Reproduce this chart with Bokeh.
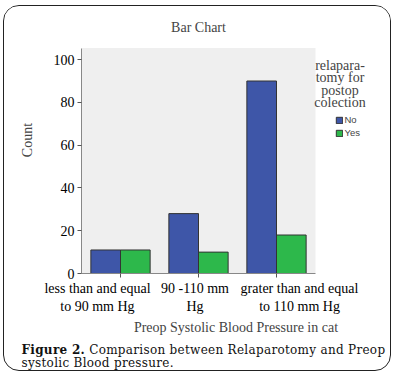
from bokeh.plotting import figure
from bokeh.layouts import column
from bokeh.models import (Range1d, ColumnDataSource, Label, Legend, LegendItem,
                          FixedTicker, LinearAxis, Div)
from bokeh.embed import file_html
from bokeh.resources import INLINE

categories = ["less than and equal\nto 90 mm Hg", "90 -110 mm\nHg", "grater than and equal\nto 110 mm Hg"]
no_counts = [11, 28, 90]
yes_counts = [11, 10, 18]
series_names = ["No", "Yes"]
y_ticks = [0, 20, 40, 60, 80, 100]
y_top = 105.4  # top of the grey plot area, in counts
# where SPSS placed the category labels (spread apart to avoid overlap), in category units
label_pos = [0.205, 1.455, 2.795]

# layout (canvas pixels)
W, H = 386, 331
FL = 77            # frame left
FB = 266.5         # frame bottom (frame top is canvas top)
PLOT_W = 234       # width of the grey plot area
PLOT_H = 225       # height of the grey plot area
n = len(categories)
x_end = n * (W - FL) / PLOT_W
y_end = y_top * FB / PLOT_H

centers = [i + 0.5 for i in range(n)]
off = 0.19
src = ColumnDataSource(dict(x_no=[c - off for c in centers], x_yes=[c + off for c in centers],
                            no=no_counts, yes=yes_counts))

p = figure(width=W, height=H, x_range=Range1d(0, x_end), y_range=Range1d(0, y_end),
           output_backend="svg", toolbar_location=None, x_axis_location=None,
           min_border_left=FL, min_border_top=0, min_border_right=0,
           min_border_bottom=int(round(H - FB)))
p.background_fill_color = "white"
p.border_fill_color = "white"
p.outline_line_color = None
p.grid.visible = False

serif = "Liberation Serif"

# grey plot area
p.quad(left=[0], right=[n], bottom=[0], top=[y_top], fill_color="#efefef", line_color=None)

r_no = p.vbar(x="x_no", top="no", width=0.38, source=src,
              fill_color="#3e56a8", line_color="#333333", line_width=1)
r_yes = p.vbar(x="x_yes", top="yes", width=0.38, source=src,
               fill_color="#2db84b", line_color="#333333", line_width=1)

# y axis
p.yaxis.ticker = FixedTicker(ticks=y_ticks)
p.yaxis.bounds = (0, y_top)
p.yaxis.minor_tick_line_color = None
p.yaxis.major_tick_out = 4
p.yaxis.major_tick_in = 0
p.yaxis.major_label_standoff = 3
p.yaxis.axis_line_color = "#888888"
p.yaxis.major_tick_line_color = "#555555"
p.yaxis.major_label_text_font = serif
p.yaxis.major_label_text_font_size = "14px"
p.yaxis.major_label_text_color = "black"
p.yaxis.axis_label = "Count"
p.yaxis.axis_label_text_font = serif
p.yaxis.axis_label_text_font_style = "normal"
p.yaxis.axis_label_text_font_size = "14px"
p.yaxis.axis_label_standoff = 16

# x axis: ticks at categories
tick_axis = LinearAxis(ticker=FixedTicker(ticks=centers), bounds=(0, n), major_tick_out=4,
                       major_tick_in=0, axis_line_color="#888888",
                       major_tick_line_color="#555555", minor_tick_line_color=None,
                       major_label_text_font_size="0px", major_label_standoff=0,
                       major_label_overrides={c: "" for c in centers})
p.add_layout(tick_axis, "below")

# x axis: labels where SPSS drew them
lab_axis = LinearAxis(ticker=FixedTicker(ticks=label_pos),
                      major_label_overrides={pos: c for pos, c in zip(label_pos, categories)},
                      axis_line_color=None, major_tick_line_color=None, minor_tick_line_color=None,
                      major_tick_out=0, major_tick_in=0, major_label_standoff=3,
                      major_label_text_font=serif, major_label_text_font_size="14px",
                      major_label_text_color="black",
                      axis_label="Preop Systolic Blood Pressure in cat",
                      axis_label_text_font=serif, axis_label_text_font_style="normal",
                      axis_label_text_font_size="14px", axis_label_standoff=3)
p.add_layout(lab_axis, "below")

# title (screen units: from the frame's bottom-left)
p.add_layout(Label(x=PLOT_W / 2, y=246, x_units="screen", y_units="screen", text="Bar Chart",
                   text_align="center", text_baseline="middle", text_font=serif,
                   text_font_size="14px"))

# legend title
p.add_layout(Label(x=258.5, y=216, x_units="screen", y_units="screen",
                   text="relapara-\ntomy for\npostop\ncolection", text_align="center",
                   text_baseline="top", text_font=serif, text_font_size="14px",
                   text_line_height=0.84))

leg = Legend(items=[LegendItem(label=series_names[0], renderers=[r_no]),
                    LegendItem(label=series_names[1], renderers=[r_yes])],
             location=(253.5, 135), glyph_width=8, glyph_height=8, label_standoff=2,
             padding=0, margin=0, spacing=2, label_text_font="Liberation Sans",
             label_text_font_size="9.5px", label_height=9, border_line_color=None,
             background_fill_alpha=0)
p.add_layout(leg)

caption = Div(text="<b>Figure 2.</b> Comparison between Relaparotomy and Preop<br>"
                   "systolic Blood pressure.",
              width=W, height=33, margin=(0, 0, 0, 0),
              styles={"font-family": "'DejaVu Serif'", "font-size": "12px",
                      "line-height": "13px", "letter-spacing": "0.3px",
                      "padding-left": "17.5px", "padding-top": "7px",
                      "color": "#111111", "box-sizing": "border-box"})

layout = column(p, caption, spacing=0,
                styles={"border": "1.5px solid #222222", "border-radius": "16px",
                        "margin-left": "3px", "margin-top": "5px", "overflow": "hidden"})

open("out.html", "w").write(file_html(layout, INLINE))
